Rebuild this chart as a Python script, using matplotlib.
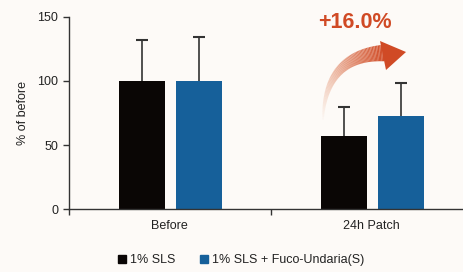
import numpy as np
import matplotlib
matplotlib.use("Agg")
import matplotlib.pyplot as plt
from matplotlib.lines import Line2D
from matplotlib.collections import LineCollection
from matplotlib.patches import Polygon
from matplotlib.colors import to_rgba

categories = ["Before", "24h Patch"]
series_names = ["1% SLS", "1% SLS + Fuco-Undaria(S)"]
sls_values = [100, 57.3]
sls_err = [32, 22.5]
fuco_values = [100, 72.6]
fuco_err = [34, 26]
yticks = [0, 50, 100, 150]
annotation = "+16.0%"

bg = "#fdfaf7"
black = "#0a0605"
blue = "#16609a"
accent = "#d04a25"

plt.rcParams['font.family'] = ['Liberation Sans', 'DejaVu Sans']
fig = plt.figure(figsize=(4.63, 2.72), dpi=100, facecolor=bg)
ax = fig.add_axes([0.1484, 0.2305, 0.8726, 0.708])
ax.set_facecolor(bg)

x = np.arange(len(categories))
w = 0.227
ax.bar(x - 0.139, sls_values, w, color=black, zorder=2)
ax.bar(x + 0.146, fuco_values, w, color=blue, zorder=2)
for xs, vals, errs in [(x - 0.139, sls_values, sls_err), (x + 0.146, fuco_values, fuco_err)]:
    eb = ax.errorbar(xs, vals, yerr=[np.zeros(2), errs], fmt='none',
                     ecolor='#333333', elinewidth=1.2, capsize=4.5, capthick=1.5, zorder=3)
    eb[1][0].set_visible(False)

ax.set_xlim(-0.5, 1.5)
ax.set_ylim(0, 150)
ax.set_yticks(yticks)
ax.set_xticks(x)
ax.set_xticklabels(categories)
ax.set_xticks([-0.5, 0.5, 1.5], minor=True)
ax.tick_params(axis='x', which='major', length=0, pad=8, labelsize=9, colors='#222222')
ax.tick_params(axis='x', which='minor', length=4, width=1, color='#333333')
ax.tick_params(axis='y', length=4, width=1, color='#333333', labelsize=9, labelcolor='#222222')
for s in ['top', 'right']:
    ax.spines[s].set_visible(False)
for s in ['left', 'bottom']:
    ax.spines[s].set_color('#333333')
    ax.spines[s].set_linewidth(1.0)
ax.set_ylabel("% of before", fontsize=9, color='#222222', labelpad=6)

# curved gradient arrow (decoration) in axes fraction coordinates
W, H = 463 * 0.8726, 272 * 0.708
x0, y0 = 68.7, 209.3
def pf(px, py):
    return ((px - x0) / W, (y0 - py) / H)

P0 = np.array(pf(323, 120))
P1 = np.array(pf(325, 55))
P2 = np.array(pf(384, 53))
t = np.linspace(0, 1, 80)
pts = ((1 - t)[:, None] ** 2) * P0 + (2 * (1 - t) * t)[:, None] * P1 + (t ** 2)[:, None] * P2
segs = np.stack([pts[:-1], pts[1:]], axis=1)
c0 = np.array(to_rgba(accent))
light = np.array(to_rgba("#e8a07a"))
cols = []
lws = []
for tt in t[:-1]:
    a = 0.03 + 0.97 * tt ** 0.9
    col = light * (1 - tt) + c0 * tt
    col[3] = a
    cols.append(col)
    lws.append(1 + 11 * tt)
lc = LineCollection(segs, colors=cols, linewidths=lws, transform=ax.transAxes,
                    clip_on=False, capstyle='butt', zorder=4)
ax.add_collection(lc)
head = Polygon([pf(380, 41), pf(406, 52), pf(386, 70)], closed=True,
               facecolor=accent, edgecolor='none', transform=ax.transAxes,
               clip_on=False, zorder=4)
ax.add_patch(head)
ax.text(*pf(355, 22), annotation, transform=ax.transAxes, ha='center', va='center',
        fontsize=15.5, fontweight='bold', color=accent, clip_on=False)

handles = [Line2D([], [], marker='s', linestyle='none', markersize=6, color=black),
           Line2D([], [], marker='s', linestyle='none', markersize=6, color=blue)]
leg = fig.legend(handles, series_names, loc='center', bbox_to_anchor=(240 / 463, 1 - 260 / 272),
                 ncol=2, frameon=False, fontsize=9, handletextpad=0.1, columnspacing=1.8,
                 handlelength=1.0, labelcolor='#222222')

fig.savefig("out.png", dpi=100, facecolor=bg)
